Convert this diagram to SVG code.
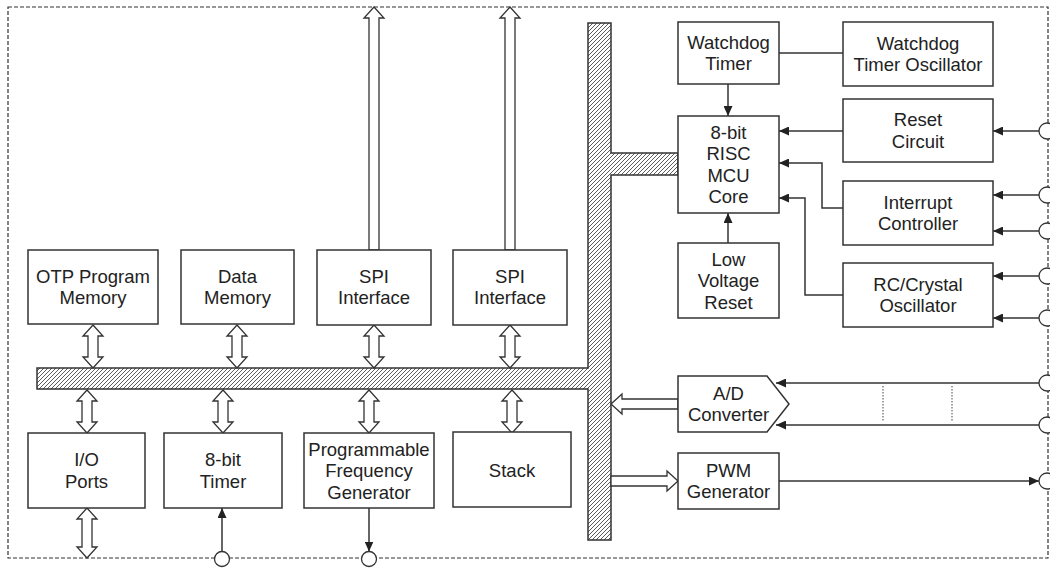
<svg xmlns="http://www.w3.org/2000/svg" width="1050" height="568" viewBox="0 0 1050 568">
<style>
.box{fill:#fff;stroke:#333;stroke-width:1.5}
.t{font-family:"Liberation Sans",Arial,sans-serif;font-size:18.5px;fill:#222;text-anchor:middle}
.ln{fill:none;stroke:#333;stroke-width:1.5}
.ha{fill:#fff;stroke:#333;stroke-width:1.3;stroke-linejoin:miter}
.pin{fill:#fff;stroke:#333;stroke-width:1.3}
.dot{fill:none;stroke:#444;stroke-width:1;stroke-dasharray:1.5,1.5}
</style>
<defs>
<pattern id="hatch" patternUnits="userSpaceOnUse" width="4" height="4">
<rect width="4" height="4" fill="#fff"/>
<path d="M-1,1 L1,-1 M0,4 L4,0 M3,5 L5,3" stroke="#333" stroke-width="0.8"/>
</pattern>
<marker id="ah" viewBox="0 0 10 9" refX="10" refY="4.5" markerWidth="10" markerHeight="9" markerUnits="userSpaceOnUse" orient="auto">
<path d="M0,0 L10,4.5 L0,9 Z" fill="#222"/>
</marker>
</defs>
<rect width="1050" height="568" fill="#fff"/>
<rect id="border" x="8" y="7" width="1040" height="551" fill="none" stroke="#333" stroke-width="1.2" stroke-dasharray="4,2"/>

<g id="bus">
<path d="M37,368 H588 V23 H611 V153 H678 V175 H611 V540 H588 V389 H37 Z" fill="url(#hatch)" stroke="#333" stroke-width="1.5"/>
</g>

<g id="connectors">
<path class="ha" d="M374,7 L384,18 L379,18 L379,250 L369,250 L369,18 L364,18 Z"/>
<path class="ha" d="M510,7 L520,18 L515,18 L515,250 L505,250 L505,18 L500,18 Z"/>
<path class="ha" d="M93,325 L103,336 L98,336 L98,357 L103,357 L93,368 L83,357 L88,357 L88,336 L83,336 Z"/>
<path class="ha" d="M237,325 L247,336 L242,336 L242,357 L247,357 L237,368 L227,357 L232,357 L232,336 L227,336 Z"/>
<path class="ha" d="M374,325 L384,336 L379,336 L379,357 L384,357 L374,368 L364,357 L369,357 L369,336 L364,336 Z"/>
<path class="ha" d="M510,325 L520,336 L515,336 L515,357 L520,357 L510,368 L500,357 L505,357 L505,336 L500,336 Z"/>
<path class="ha" d="M87,390 L97,401 L92,401 L92,422 L97,422 L87,433 L77,422 L82,422 L82,401 L77,401 Z"/>
<path class="ha" d="M223,390 L233,401 L228,401 L228,422 L233,422 L223,433 L213,422 L218,422 L218,401 L213,401 Z"/>
<path class="ha" d="M369,390 L379,401 L374,401 L374,422 L379,422 L369,433 L359,422 L364,422 L364,401 L359,401 Z"/>
<path class="ha" d="M512,390 L522,401 L517,401 L517,422 L522,422 L512,433 L502,422 L507,422 L507,401 L502,401 Z"/>
<path class="ha" d="M87,508 L97,519 L92,519 L92,547 L97,547 L87,558 L77,547 L82,547 L82,519 L77,519 Z"/>
<path class="ha" d="M611,404 L622,394 L622,399 L678,399 L678,409 L622,409 L622,414 Z"/>
<path class="ha" d="M678,481 L667,471 L667,476 L611,476 L611,486 L667,486 L667,491 Z"/>

<line class="ln" x1="779" y1="53" x2="843" y2="53"/>
<line class="ln" x1="728" y1="84" x2="728" y2="116" marker-end="url(#ah)"/>
<line class="ln" x1="843" y1="131" x2="779" y2="131" marker-end="url(#ah)"/>
<polyline class="ln" points="843,208 822,208 822,163 779,163" marker-end="url(#ah)"/>
<polyline class="ln" points="843,295 805,295 805,198 779,198" marker-end="url(#ah)"/>
<line class="ln" x1="728" y1="243" x2="728" y2="213" marker-end="url(#ah)"/>

<line class="ln" x1="1039" y1="131" x2="993" y2="131" marker-end="url(#ah)"/>
<line class="ln" x1="1039" y1="195" x2="993" y2="195" marker-end="url(#ah)"/>
<line class="ln" x1="1039" y1="231" x2="993" y2="231" marker-end="url(#ah)"/>
<line class="ln" x1="1039" y1="276" x2="993" y2="276" marker-end="url(#ah)"/>
<line class="ln" x1="1039" y1="318" x2="993" y2="318" marker-end="url(#ah)"/>
<line class="ln" x1="1039" y1="383" x2="776" y2="383" marker-end="url(#ah)"/>
<line class="ln" x1="1039" y1="425" x2="776" y2="425" marker-end="url(#ah)"/>
<line class="dot" x1="883" y1="386" x2="883" y2="421"/>
<line class="dot" x1="952" y1="386" x2="952" y2="421"/>
<line class="ln" x1="779" y1="481" x2="1039" y2="481" marker-end="url(#ah)"/>

<line class="ln" x1="222" y1="551.5" x2="222" y2="508" marker-end="url(#ah)"/>
<line class="ln" x1="369" y1="508" x2="369" y2="551.5" marker-end="url(#ah)"/>

<circle class="pin" cx="1047" cy="131" r="8"/>
<circle class="pin" cx="1047" cy="195" r="8"/>
<circle class="pin" cx="1047" cy="231" r="8"/>
<circle class="pin" cx="1047" cy="276" r="8"/>
<circle class="pin" cx="1047" cy="318" r="8"/>
<circle class="pin" cx="1047" cy="383" r="8"/>
<circle class="pin" cx="1047" cy="425" r="8"/>
<circle class="pin" cx="1047" cy="481" r="8"/>
<circle class="pin" cx="222" cy="559" r="7.5"/>
<circle class="pin" cx="369" cy="559" r="7.5"/>
</g>

<g id="watchdog-timer">
<rect class="box" x="678" y="22" width="101" height="62"/>
<text class="t"><tspan x="728.5" y="48.75">Watchdog</tspan><tspan x="728.5" y="70.25">Timer</tspan></text>
</g>
<g id="watchdog-oscillator">
<rect class="box" x="843" y="22" width="150" height="64"/>
<text class="t"><tspan x="918" y="49.75">Watchdog</tspan><tspan x="918" y="71.25">Timer Oscillator</tspan></text>
</g>
<g id="mcu-core">
<rect class="box" x="678" y="116" width="101" height="97"/>
<text class="t"><tspan x="728.5" y="138.75">8-bit</tspan><tspan x="728.5" y="160.25">RISC</tspan><tspan x="728.5" y="181.75">MCU</tspan><tspan x="728.5" y="203.25">Core</tspan></text>
</g>
<g id="reset-circuit">
<rect class="box" x="843" y="99" width="150" height="63"/>
<text class="t"><tspan x="918" y="126.25">Reset</tspan><tspan x="918" y="147.75">Circuit</tspan></text>
</g>
<g id="interrupt-controller">
<rect class="box" x="843" y="181" width="150" height="64"/>
<text class="t"><tspan x="918" y="208.75">Interrupt</tspan><tspan x="918" y="230.25">Controller</tspan></text>
</g>
<g id="rc-oscillator">
<rect class="box" x="843" y="263" width="150" height="64"/>
<text class="t"><tspan x="918" y="290.75">RC/Crystal</tspan><tspan x="918" y="312.25">Oscillator</tspan></text>
</g>
<g id="low-voltage-reset">
<rect class="box" x="678" y="243" width="101" height="75"/>
<text class="t"><tspan x="728.5" y="265.5">Low</tspan><tspan x="728.5" y="287">Voltage</tspan><tspan x="728.5" y="308.5">Reset</tspan></text>
</g>
<g id="ad-converter">
<path class="box" d="M678,376 H767 L789,404 L767,432 H678 Z"/>
<text class="t"><tspan x="728.5" y="399.75">A/D</tspan><tspan x="728.5" y="421.25">Converter</tspan></text>
</g>
<g id="pwm-generator">
<rect class="box" x="678" y="453" width="101" height="56"/>
<text class="t"><tspan x="728.5" y="476.75">PWM</tspan><tspan x="728.5" y="498.25">Generator</tspan></text>
</g>

<g id="otp-memory">
<rect class="box" x="28" y="250" width="130" height="74"/>
<text class="t"><tspan x="93" y="282.75">OTP Program</tspan><tspan x="93" y="304.25">Memory</tspan></text>
</g>
<g id="data-memory">
<rect class="box" x="181" y="250" width="113" height="74"/>
<text class="t"><tspan x="237.5" y="282.75">Data</tspan><tspan x="237.5" y="304.25">Memory</tspan></text>
</g>
<g id="spi-1">
<rect class="box" x="317" y="250" width="114" height="75"/>
<text class="t"><tspan x="374" y="282.75">SPI</tspan><tspan x="374" y="304.25">Interface</tspan></text>
</g>
<g id="spi-2">
<rect class="box" x="453" y="250" width="114" height="75"/>
<text class="t"><tspan x="510" y="282.75">SPI</tspan><tspan x="510" y="304.25">Interface</tspan></text>
</g>

<g id="io-ports">
<rect class="box" x="28" y="433" width="117" height="75"/>
<text class="t"><tspan x="86.5" y="466.25">I/O</tspan><tspan x="86.5" y="487.75">Ports</tspan></text>
</g>
<g id="timer">
<rect class="box" x="164" y="433" width="118" height="75"/>
<text class="t"><tspan x="223" y="466.25">8-bit</tspan><tspan x="223" y="487.75">Timer</tspan></text>
</g>
<g id="pfg">
<rect class="box" x="304" y="433" width="130" height="75"/>
<text class="t"><tspan x="369" y="455.5">Programmable</tspan><tspan x="369" y="477">Frequency</tspan><tspan x="369" y="498.5">Generator</tspan></text>
</g>
<g id="stack">
<rect class="box" x="453" y="432" width="118" height="75"/>
<text class="t"><tspan x="512" y="477">Stack</tspan></text>
</g>
</svg>
